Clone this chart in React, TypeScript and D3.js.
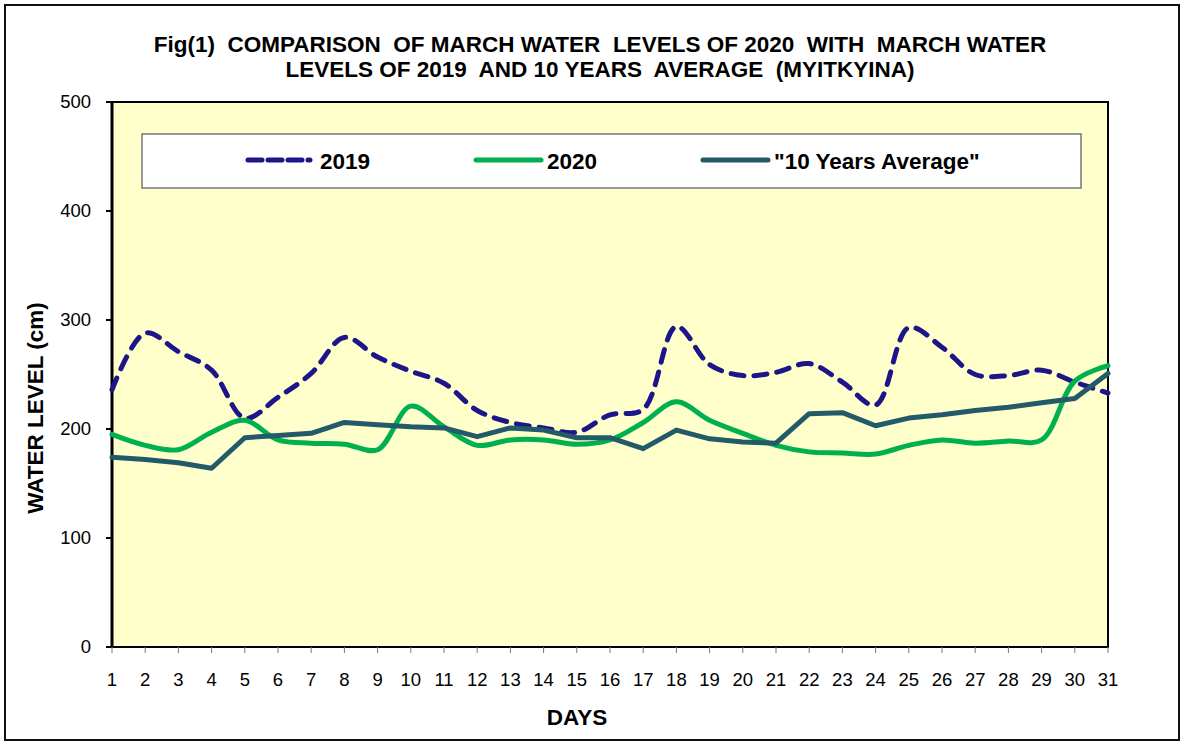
import React from 'react';
import * as d3 from 'd3';

const days = d3.range(1, 32);

const levels2019 = [236, 288, 271, 254, 210, 229, 251, 284, 266, 253, 242, 217, 206, 201, 197, 213, 218, 294, 259, 249, 252, 260, 243, 222, 293, 275, 250, 249, 254, 243, 233];
const levels2020 = [195, 185, 181, 197, 208, 190, 187, 186, 181, 221, 202, 185, 190, 190, 186, 190, 206, 225, 208, 196, 185, 179, 178, 177, 185, 190, 187, 189, 190, 244, 258];
const tenYearAvg = [174, 172, 169, 164, 192, 194, 196, 206, 204, 202, 201, 193, 201, 199, 192, 192, 182, 199, 191, 188, 187, 214, 215, 203, 210, 213, 217, 220, 224, 228, 251];

const yTicks = [0, 100, 200, 300, 400, 500];

const titleLines = [
  'Fig(1)  COMPARISON  OF MARCH WATER  LEVELS OF 2020  WITH  MARCH WATER',
  'LEVELS OF 2019  AND 10 YEARS  AVERAGE  (MYITKYINA)',
];

const series = [
  { name: '2019', values: levels2019, color: '#1d168a', dash: '13 10', smooth: true },
  { name: '2020', values: levels2020, color: '#00b050', dash: null, smooth: true },
  { name: '"10 Years Average"', values: tenYearAvg, color: '#225a69', dash: null, smooth: false },
];

const W = 1182;
const H = 742;
const plot = { left: 112, right: 1108, top: 102, bottom: 647 };
const font = 'Arial, "Liberation Sans", sans-serif';

const App = () => {
  const x = d3.scaleLinear().domain([1, 31]).range([plot.left, plot.right]);
  const y = d3.scaleLinear().domain([0, 500]).range([plot.bottom, plot.top]);

  const makeLine = (smooth: boolean) =>
    d3
      .line<number>()
      .x((_, i) => x(days[i]))
      .y(d => y(d))
      .curve(smooth ? d3.curveCatmullRom.alpha(0.5) : d3.curveLinear);

  const legendItems = [
    { x1: 248, x2: 310, tx: 320 },
    { x1: 476, x2: 541, tx: 547 },
    { x1: 703, x2: 768, tx: 774 },
  ];

  return (
    <div>
      <style>{'body{margin:0}'}</style>
      <svg width={W} height={H} style={{ display: 'block', fontFamily: font }}>
        <rect x={0} y={0} width={W} height={H} fill="#fff" />
        <rect x={5} y={5} width={1174} height={735} fill="#fff" stroke="#111" strokeWidth={2} />

        {titleLines.map((t, i) => (
          <text
            key={i}
            x={600}
            y={52 + i * 25}
            textAnchor="middle"
            fontSize={22.5}
            fontWeight="bold"
            style={{ whiteSpace: 'pre' }}
          >
            {t}
          </text>
        ))}

        <rect
          x={plot.left}
          y={plot.top}
          width={plot.right - plot.left}
          height={plot.bottom - plot.top}
          fill="#ffffcc"
          stroke="#000"
          strokeWidth={2}
        />

        {/* y axis */}
        {yTicks.map(t => (
          <g key={t}>
            <line x1={106} x2={plot.left} y1={y(t)} y2={y(t)} stroke="#000" strokeWidth={2} />
            <text x={91} y={y(t)} dy="0.35em" textAnchor="end" fontSize={18.5}>
              {t}
            </text>
          </g>
        ))}
        <line x1={plot.left} x2={plot.left} y1={plot.top} y2={plot.bottom} stroke="#000" strokeWidth={3} />

        {/* x axis */}
        {days.map(d => (
          <g key={d}>
            <line x1={x(d)} x2={x(d)} y1={plot.bottom} y2={plot.bottom + 6} stroke="#777" strokeWidth={1} />
            <text x={x(d)} y={686} textAnchor="middle" fontSize={18.5}>
              {d}
            </text>
          </g>
        ))}

        <text x={577} y={725} textAnchor="middle" fontSize={22.5} fontWeight="bold">
          DAYS
        </text>
        <text
          transform={`translate(43, 408) rotate(-90)`}
          textAnchor="middle"
          fontSize={22.5}
          fontWeight="bold"
        >
          WATER LEVEL (cm)
        </text>

        {/* legend */}
        <rect x={142} y={134} width={939} height={54} fill="#fff" stroke="#777" strokeWidth={1.5} />
        {series.map((s, i) => (
          <g key={s.name}>
            <line
              x1={legendItems[i].x1}
              x2={legendItems[i].x2}
              y1={160}
              y2={160}
              stroke={s.color}
              strokeWidth={5}
              strokeLinecap="round"
              strokeDasharray={s.dash ? '14 6' : undefined}
            />
            <text x={legendItems[i].tx} y={161} dy="0.35em" fontSize={22.5} fontWeight="bold">
              {s.name}
            </text>
          </g>
        ))}

        {/* series */}
        {series.map(s => (
          <path
            key={s.name}
            d={makeLine(s.smooth)(s.values) || ''}
            fill="none"
            stroke={s.color}
            strokeWidth={5}
            strokeLinecap="round"
            strokeLinejoin="round"
            strokeDasharray={s.dash || undefined}
          />
        ))}
      </svg>
    </div>
  );
};

export default App;
